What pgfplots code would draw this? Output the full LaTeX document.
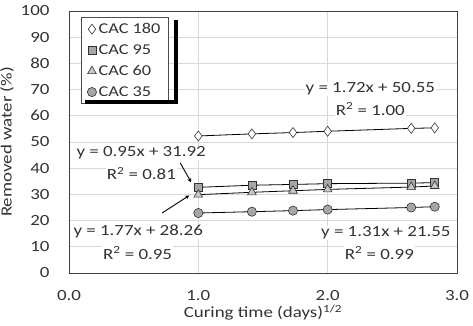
\documentclass[border=0pt]{standalone}
\usepackage{pgfplots}
\pgfplotsset{compat=1.18}
\usepackage{fontspec}
\setmainfont[FakeStretch=1.22]{Carlito}

\definecolor{txt}{HTML}{333333}
\definecolor{gridc}{HTML}{D9D9D9}
\definecolor{fillA}{HTML}{A6A6A6}
\definecolor{fillB}{HTML}{C8C8C8}

\begin{document}
\begin{tikzpicture}
\begin{axis}[
  scale only axis,
  width=388pt, height=262pt,
  xmin=0, xmax=3, ymin=0, ymax=100,
  xtick={0,1,2,3}, ytick={0,10,...,100},
  /pgf/number format/assume math mode=true,
  xticklabel style={yshift=-14pt, /pgf/number format/fixed, /pgf/number format/fixed zerofill, /pgf/number format/precision=1},
  yticklabel style={xshift=-16pt},
  grid=major,
  major grid style={gridc, line width=0.7pt},
  axis line style={black!75, line width=0.9pt},
  major tick length=0pt,
  font=\fontsize{15.5}{18}\selectfont,
  tick label style={txt},
  label style={txt},
  xlabel={Curing time (days)\textsuperscript{1/2}},
  ylabel={Removed water (\%)},
  xlabel style={yshift=3pt},
  legend cell align=left,
  legend image code/.code={\draw[#1, only marks] plot coordinates {(0.2cm,0cm)};},
  legend style={
    at={(0.031,0.977)}, anchor=north west,
    draw=black!70, line width=0.6pt, fill=white,
    font=\fontsize{15}{17}\selectfont, text=txt,
    row sep=5.5pt, inner xsep=6pt, inner ysep=4pt,
  },
  every axis plot/.append style={black, line width=0.8pt},
]
% CAC 180
\addplot[mark=diamond*, mark size=5pt, mark options={fill=white, draw=black!80, line width=0.6pt}]
  coordinates {(1,52.3) (1.414,53.1) (1.732,53.6) (2,54.1) (2.646,55.2) (2.828,55.4)};
% CAC 95
\addplot[mark=square*, mark size=4pt, mark options={fill=fillA, draw=black!80, line width=0.6pt}]
  coordinates {(1,32.7) (1.414,33.5) (1.732,33.8) (2,34.1) (2.646,34.3) (2.828,34.5)};
% CAC 60
\addplot[mark=triangle*, mark size=5pt, mark options={fill=fillB, draw=black!80, line width=0.6pt}]
  coordinates {(1,29.9) (1.414,30.8) (1.732,31.4) (2,31.9) (2.646,32.8) (2.828,33.2)};
% CAC 35
\addplot[mark=*, mark size=4.6pt, mark options={fill=fillA, draw=black!80, line width=0.6pt}]
  coordinates {(1,22.9) (1.414,23.4) (1.732,23.8) (2,24.2) (2.646,25.0) (2.828,25.3)};
\legend{CAC 180, CAC 95, CAC 60, CAC 35}

% trend-line equations
\begin{scope}[every node/.style={text=txt, font=\fontsize{15.5}{18}\selectfont, fill=white, inner sep=1pt}]
\node at (axis cs:2.33,70.2) {y = 1.72x + 50.55};
\node at (axis cs:2.33,62.6) {R\textsuperscript{2} = 1.00};
\node at (axis cs:0.558,45.8) {y = 0.95x + 31.92};
\node at (axis cs:0.56,38.0) {R\textsuperscript{2} = 0.81};
\node at (axis cs:0.535,15.7) {y = 1.77x + 28.26};
\node at (axis cs:0.53,7.6) {R\textsuperscript{2} = 0.95};
\node at (axis cs:2.45,15.3) {y = 1.31x + 21.55};
\node at (axis cs:2.40,7.6) {R\textsuperscript{2} = 0.99};
\end{scope}
\draw[-stealth, black, line width=0.9pt] (axis cs:0.86,42.0) -- (axis cs:0.945,34.6);
\draw[-stealth, black, line width=0.9pt] (axis cs:0.72,22.9) -- (axis cs:0.93,29.6);
\end{axis}
% legend drop shadow (right and bottom strips)
\fill[black] ([shift={(105.3pt,-9.5pt)}]current axis.north west) rectangle ([shift={(108.8pt,-92.8pt)}]current axis.north west);
\fill[black] ([shift={(15.5pt,-89.3pt)}]current axis.north west) rectangle ([shift={(108.8pt,-92.8pt)}]current axis.north west);
\pgfresetboundingbox
\path (current axis.south west) ++(-69pt,-53pt) rectangle ++(473pt,326pt);
\end{tikzpicture}
\end{document}
